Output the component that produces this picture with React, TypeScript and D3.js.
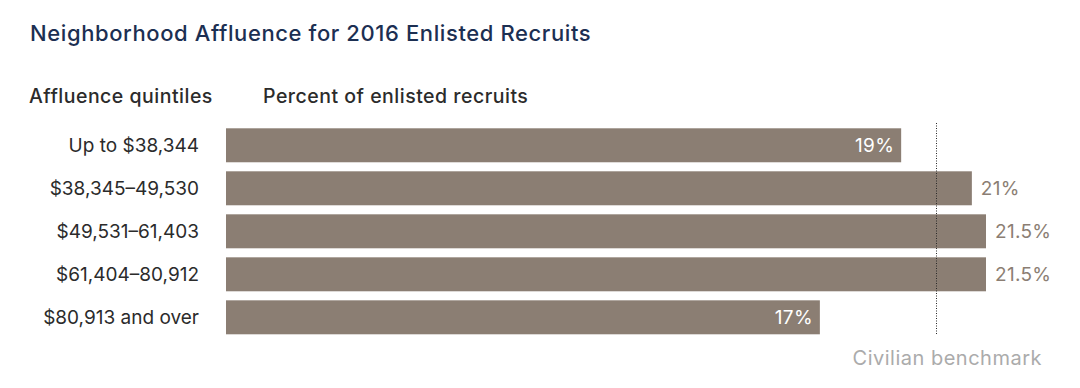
import * as d3 from "d3";

const categories = [
  "Up to $38,344",
  "$38,345–49,530",
  "$49,531–61,403",
  "$61,404–80,912",
  "$80,913 and over",
];
// labels are the published rounded values
const values = [19.1, 21.1, 21.5, 21.5, 16.8];
const valueLabels = ["19%", "21%", "21.5%", "21.5%", "17%"];
const labelInside = [true, false, false, false, true];
const benchmark = 20.1;

const W = 1080;
const H = 388;
const barColor = "#8b7e73";
const font = "Inter, 'Noto Sans', sans-serif";

const App = () => {
  const x = d3.scaleLinear().domain([0, 21.5]).range([226, 986]);
  const y = d3
    .scaleBand<string>()
    .domain(categories)
    .range([128.3, 334.3])
    .paddingInner(0.21)
    .paddingOuter(0);

  return (
    <svg
      width={W}
      height={H}
      style={{ position: "absolute", left: 0, top: 0, background: "#fff" }}
      fontFamily={font}
    >
      <text
        x={30}
        y={41}
        fontSize={22}
        fontWeight={500}
        letterSpacing={0.6}
        fill="#1c2f52"
      >
        Neighborhood Affluence for 2016 Enlisted Recruits
      </text>
      <text
        x={29}
        y={103}
        fontSize={19.5}
        fontWeight={450}
        letterSpacing={0.5}
        fill="#2b2b2b"
      >
        Affluence quintiles
      </text>
      <text
        x={263}
        y={103}
        fontSize={19.5}
        fontWeight={450}
        letterSpacing={0.5}
        fill="#2b2b2b"
      >
        Percent of enlisted recruits
      </text>

      {categories.map((c, i) => {
        const yy = y(c)!;
        const mid = yy + y.bandwidth() / 2;
        const inside = labelInside[i];
        return (
          <g key={c}>
            <rect
              x={x(0)}
              y={yy}
              width={x(values[i]) - x(0)}
              height={y.bandwidth()}
              fill={barColor}
            />
            <text
              x={199}
              y={mid}
              dy="0.36em"
              textAnchor="end"
              fontSize={19}
              fill="#2b2b2b"
            >
              {c}
            </text>
            <text
              x={inside ? x(values[i]) - 7 : x(values[i]) + 9}
              y={mid}
              dy="0.36em"
              textAnchor={inside ? "end" : "start"}
              fontSize={19}
              letterSpacing={0.3}
              fill={inside ? "#ffffff" : barColor}
            >
              {valueLabels[i]}
            </text>
          </g>
        );
      })}

      <line
        x1={x(benchmark)}
        x2={x(benchmark)}
        y1={123}
        y2={335}
        stroke="#2a2a2a"
        strokeWidth={1}
        strokeDasharray="1,1.5"
      />
      <text
        x={1042}
        y={365}
        textAnchor="end"
        fontSize={20}
        letterSpacing={0.5}
        fill="#ababab"
      >
        Civilian benchmark
      </text>
    </svg>
  );
};

export default App;
